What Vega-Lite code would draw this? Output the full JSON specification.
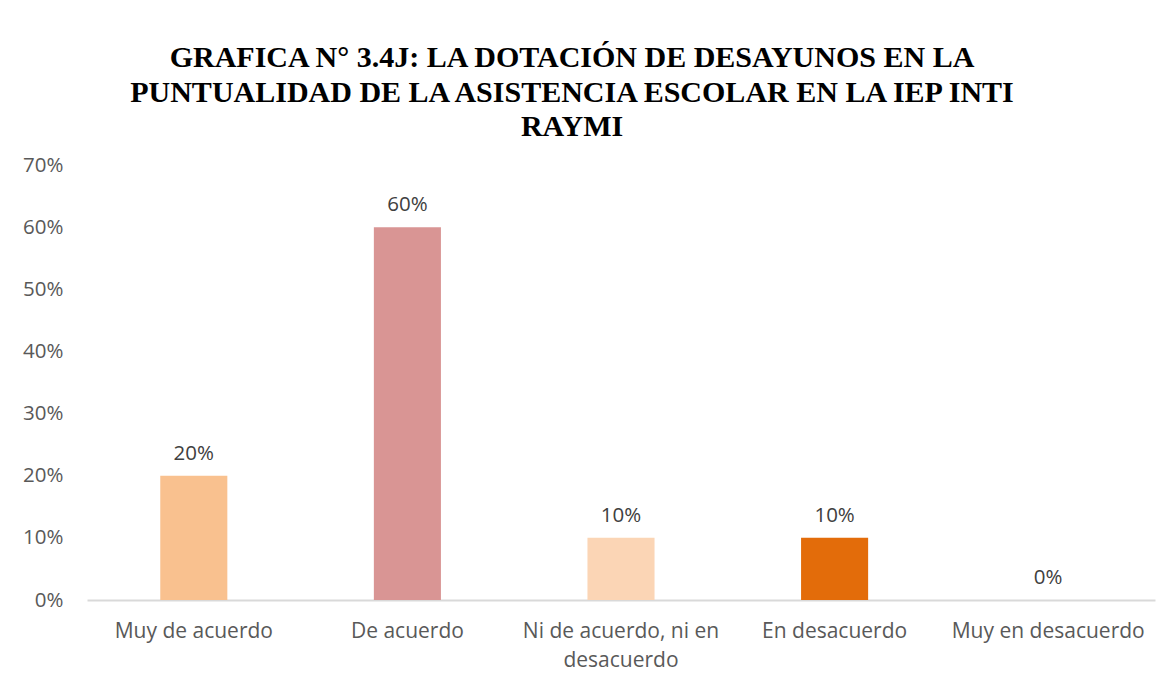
{
  "$schema": "https://vega.github.io/schema/vega-lite/v6.json",
  "width": 1068,
  "height": 435,
  "autosize": "none",
  "padding": {"left": 87, "top": 165, "right": 15, "bottom": 86},
  "background": "white",
  "title": {
    "text": ["GRAFICA N° 3.4J: LA DOTACIÓN DE DESAYUNOS EN LA", "PUNTUALIDAD DE LA ASISTENCIA ESCOLAR EN LA IEP INTI", "RAYMI"],
    "font": "Liberation Serif",
    "fontSize": 30,
    "fontWeight": "bold",
    "color": "#000000",
    "anchor": "middle",
    "frame": "group",
    "dx": -49,
    "lineHeight": 34.5,
    "offset": 13
  },
  "data": {
    "values": [
      {"categoria": "Muy de acuerdo", "porcentaje": 0.2},
      {"categoria": "De acuerdo", "porcentaje": 0.6},
      {"categoria": "Ni de acuerdo, ni en desacuerdo", "porcentaje": 0.1},
      {"categoria": "En desacuerdo", "porcentaje": 0.1},
      {"categoria": "Muy en desacuerdo", "porcentaje": 0.0}
    ]
  },
  "encoding": {
    "x": {
      "field": "categoria",
      "type": "nominal",
      "sort": null,
      "scale": {"paddingInner": 0.686, "paddingOuter": 0.343},
      "axis": {
        "title": null,
        "labelAngle": 0,
        "labelFont": "Open Sans",
        "labelFontSize": 21,
        "labelColor": "#595959",
        "labelPadding": 20,
        "labelLineHeight": 29,
        "labelLimit": 300,
        "ticks": false,
        "domainColor": "#d9d9d9",
        "domainWidth": 2,
        "grid": false,
        "labelExpr": "datum.label == 'Ni de acuerdo, ni en desacuerdo' ? ['Ni de acuerdo, ni en', 'desacuerdo'] : datum.label"
      }
    },
    "y": {
      "field": "porcentaje",
      "type": "quantitative",
      "scale": {"domain": [0, 0.7], "nice": false},
      "axis": {
        "title": null,
        "values": [0, 0.1, 0.2, 0.3, 0.4, 0.5, 0.6, 0.7],
        "format": ".0%",
        "labelFont": "Open Sans",
        "labelFontSize": 20.5,
        "labelColor": "#595959",
        "labelPadding": 24,
        "ticks": false,
        "domain": false,
        "grid": false
      }
    }
  },
  "layer": [
    {
      "mark": {"type": "bar"},
      "encoding": {
        "color": {
          "field": "categoria",
          "type": "nominal",
          "scale": {
            "domain": ["Muy de acuerdo", "De acuerdo", "Ni de acuerdo, ni en desacuerdo", "En desacuerdo", "Muy en desacuerdo"],
            "range": ["#F9C18F", "#D99594", "#FBD5B5", "#E36C0A", "#B7DEE8"]
          },
          "legend": null
        }
      }
    },
    {
      "mark": {"type": "text", "baseline": "alphabetic", "dy": -16, "font": "Open Sans", "fontSize": 20.5, "color": "#404040"},
      "encoding": {
        "text": {"field": "porcentaje", "type": "quantitative", "format": ".0%"}
      }
    }
  ],
  "config": {"view": {"stroke": null}}
}
